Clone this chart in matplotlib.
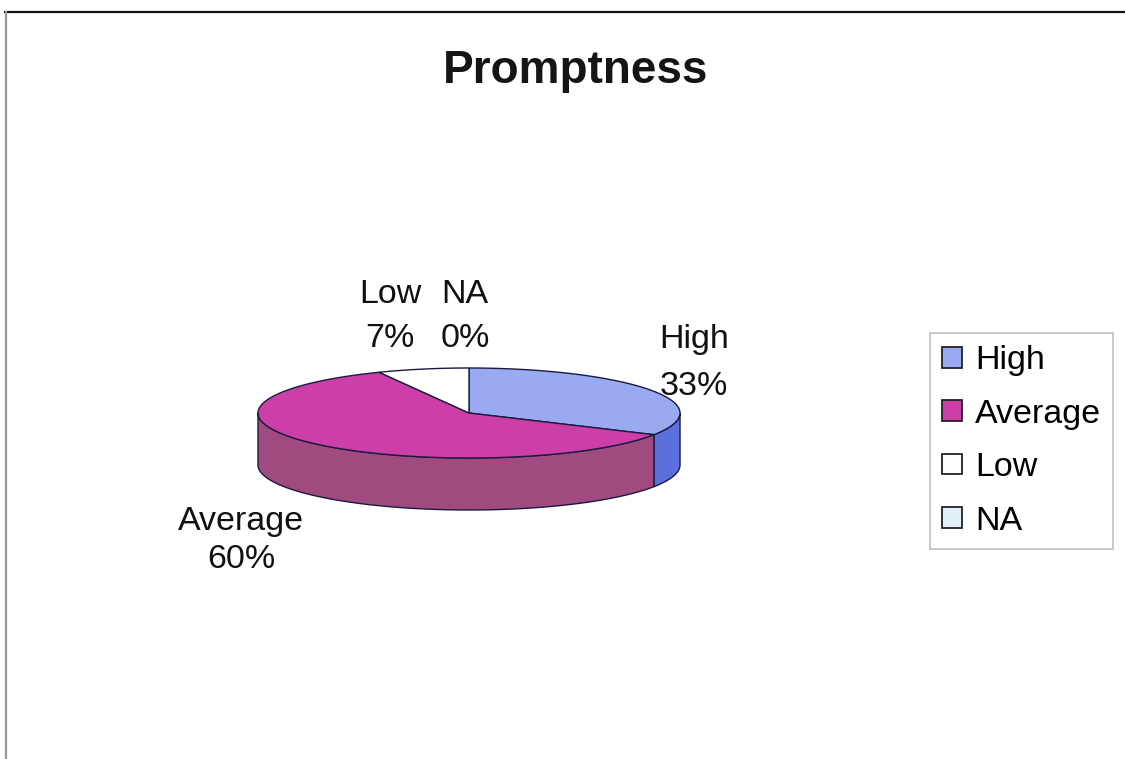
import numpy as np
import matplotlib
matplotlib.use("Agg")
import matplotlib.pyplot as plt
from matplotlib.patches import Polygon, Patch
from matplotlib.lines import Line2D

plt.rcParams['font.family'] = ['Liberation Sans', 'DejaVu Sans']

# Data
categories = ["High", "Average", "Low", "NA"]
values = [33, 60, 7, 0]
pct_labels = ["33%", "60%", "7%", "0%"]

top_colors = ["#9aaaf2", "#cc3fa8", "#ffffff", "#dff0f8"]
side_colors = ["#5b70da", "#a04a80", "#e6e6e6", "#c8dbe4"]
edge = "#1a1a40"

W, H = 1125, 759
fig = plt.figure(figsize=(W / 100, H / 100), dpi=100)
ax = fig.add_axes([0, 0, 1, 1])
ax.set_xlim(0, W)
ax.set_ylim(H, 0)
ax.axis("off")

# Chart frame
ax.add_line(Line2D([5, W], [12, 12], color="#111111", lw=1.6))
ax.add_line(Line2D([6, 6], [12, H], color="#999999", lw=1.6))

ax.text(576, 83, "Promptness", ha="center", va="baseline",
        fontsize=33, fontweight="bold", color="#151515")

# 3-D pie geometry (pixel space)
cx, cy = 469, 413
rx, ry = 211, 45
depth = 52


def rim(t, dy=0.0):
    return np.column_stack([cx + rx * np.cos(t), cy - ry * np.sin(t) + dy])


fracs = np.array(values, dtype=float) / sum(values)
starts = []
a = np.pi / 2
for f in fracs:
    starts.append((a, a - 2 * np.pi * f))
    a -= 2 * np.pi * f

# Side walls: only the front (lower) half of the rim is visible
for (a0, a1), col in zip(starts, side_colors):
    if a0 == a1:
        continue
    lo, hi = min(a0, a1), max(a0, a1)
    for k in range(-2, 2):
        s0, s1 = -np.pi + 2 * np.pi * k, 2 * np.pi * k
        l, h = max(lo, s0), min(hi, s1)
        if h <= l:
            continue
        t = np.linspace(l, h, 120)
        poly = np.vstack([rim(t), rim(t[::-1], depth)])
        ax.add_patch(Polygon(poly, closed=True, facecolor=col,
                             edgecolor=edge, lw=1.0, zorder=2))

# Top faces
for (a0, a1), col in zip(starts, top_colors):
    if a0 == a1:
        continue
    t = np.linspace(a0, a1, 200)
    poly = np.vstack([[cx, cy], rim(t)])
    ax.add_patch(Polygon(poly, closed=True, facecolor=col,
                         edgecolor=edge, lw=1.0, zorder=3))

# Data labels: (x, baseline of name, baseline of percentage)
label_pos = {"High": (694, 348, 395), "Average": (241, 530, 568),
             "Low": (390, 303, 347), "NA": (465, 303, 347)}
for cat, pct in zip(categories, pct_labels):
    x, y1, y2 = label_pos[cat]
    ax.text(x, y1, cat, ha="center", va="baseline", fontsize=24.5,
            color="#111111", zorder=5)
    ax.text(x, y2, pct, ha="center", va="baseline", fontsize=24.5,
            color="#111111", zorder=5)

# Legend
handles = [Patch(facecolor=c, edgecolor="#222222", lw=1.3) for c in top_colors]
leg = fig.legend(handles, categories, loc="center left",
                 bbox_to_anchor=(930 / W, 1 - 441 / H),
                 fontsize=24.5, frameon=True, fancybox=False,
                 handlelength=0.58, handleheight=0.55, handletextpad=0.38,
                 labelspacing=0.66, borderpad=0.36, borderaxespad=0)
leg.get_frame().set_edgecolor("#b0b0b0")
leg.get_frame().set_linewidth(1.2)

fig.savefig("out.png", dpi=100, facecolor="white")
